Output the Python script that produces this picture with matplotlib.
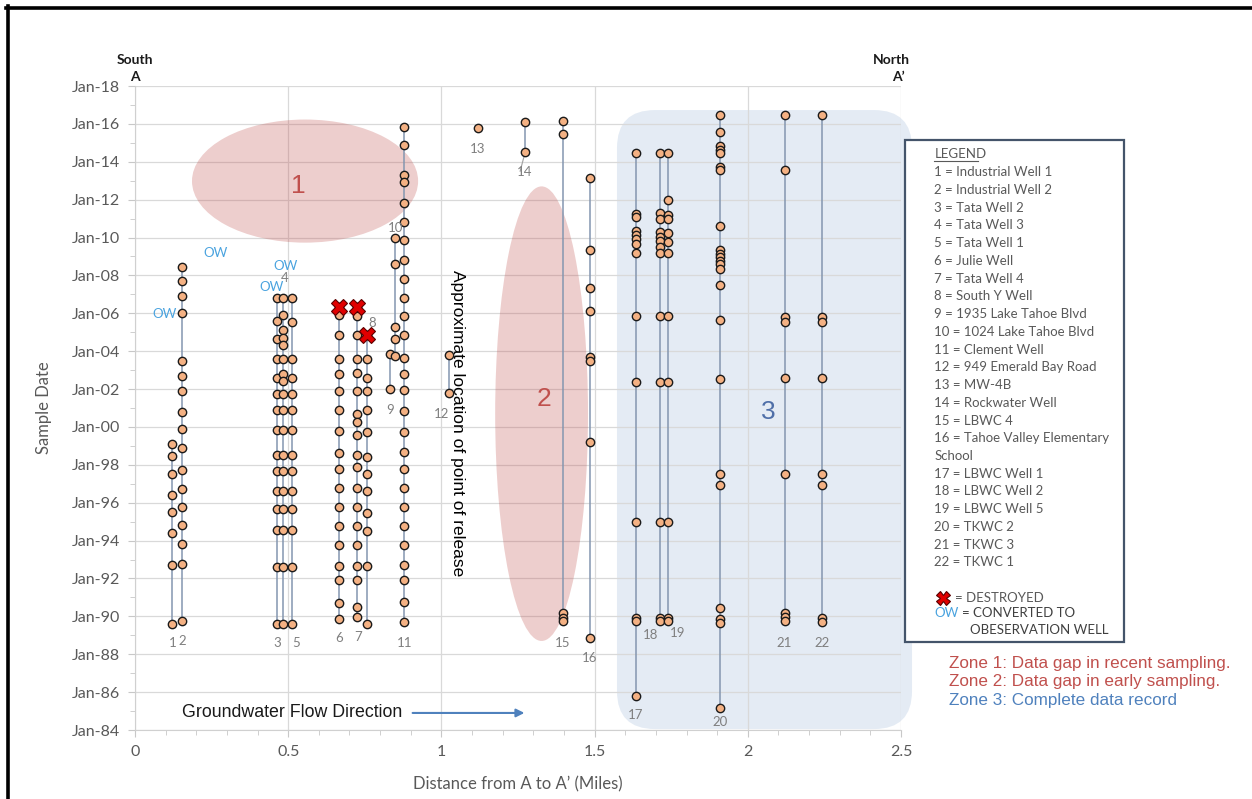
import matplotlib
matplotlib.use('Agg')
import matplotlib.pyplot as plt
from matplotlib.patches import Ellipse, FancyBboxPatch, Rectangle
from matplotlib.lines import Line2D
from matplotlib.ticker import MultipleLocator, FuncFormatter

# ---------------- data ----------------
well_ids = [str(i) for i in range(1, 23)]
well_x = [0.121, 0.153, 0.462, 0.484, 0.511, 0.667, 0.724, 0.757, 0.832, 0.849,
          0.879, 1.025, 1.120, 1.273, 1.396, 1.485, 1.635, 1.713, 1.741, 1.909,
          2.121, 2.241]

w1 = [1999.1, 1998.45, 1997.5, 1996.4, 1995.5, 1994.4, 1992.7, 1989.6]
w2 = [2008.45, 2007.7, 2006.9, 2006.0, 2003.5, 2002.7, 2001.9, 2000.8, 1999.9, 1998.9,
      1997.75, 1996.75, 1995.75, 1994.8, 1993.8, 1992.75, 1989.75]
w3 = [2006.8, 2005.6, 2004.65, 2003.6, 2002.6, 2001.75, 2000.87, 1999.85, 1998.54,
      1997.7, 1996.64, 1995.67, 1994.57, 1992.58, 1989.6]
w4 = [2006.8, 2005.9, 2005.1, 2004.7, 2004.35, 2003.6, 2002.8, 2002.4, 2001.75,
      2000.87, 1999.85, 1998.54, 1997.7, 1996.64, 1995.67, 1994.57, 1992.58, 1989.6]
w5 = [2006.8, 2005.55, 2003.6, 2002.6, 2001.75, 2000.87, 1999.85, 1998.54, 1997.7,
      1996.64, 1995.67, 1994.57, 1992.58, 1989.6]
w6 = [2006.33, 2005.93, 2004.83, 2003.6, 2002.8, 2001.9, 2000.87, 1999.76, 1998.63,
      1997.76, 1996.76, 1995.75, 1994.78, 1993.78, 1992.67, 1991.9, 1990.73, 1989.85]
w7 = [2006.33, 2005.85, 2004.83, 2003.6, 2002.84, 2001.92, 2000.7, 2000.25, 1999.55,
      1998.54, 1997.9, 1996.76, 1995.75, 1994.78, 1993.78, 1992.67, 1991.9, 1990.5,
      1989.94]
w8 = [2004.83, 2003.6, 2002.6, 2001.92, 2000.87, 1999.72, 1998.43, 1997.5, 1996.64,
      1995.46, 1994.52, 1992.67, 1989.6]
w9 = [2003.86, 2002.0]
w10 = [2009.95, 2008.6, 2005.27, 2004.66, 2003.74]
w11 = [2015.85, 2014.88, 2013.29, 2012.94, 2011.8, 2010.82, 2009.86, 2008.84, 2007.83,
       2006.83, 2005.84, 2004.83, 2003.63, 2002.8, 2001.96, 2000.83, 1999.72, 1998.66,
       1997.78, 1996.78, 1995.75, 1994.78, 1993.78, 1992.72, 1991.93, 1990.78, 1989.72]
w12 = [2003.8, 2001.8]
w13 = [2015.8]
w14 = [2016.1, 2014.53]
w15 = [2016.17, 2015.46, 1990.2, 1989.9, 1989.73]
w16 = [2013.12, 2009.36, 2007.35, 2006.1, 2003.68, 2003.46, 1999.23, 1988.84]
w17 = [2014.44, 2011.23, 2011.06, 2010.33, 2010.12, 2009.9, 2009.68, 2009.2, 2005.84,
       2002.37, 1995.0, 1989.9, 1989.73, 1985.8]
w18 = [2014.44, 2011.3, 2011.0, 2010.3, 2010.05, 2009.8, 2009.5, 2009.2, 2005.84,
       2002.37, 1995.0, 1989.9, 1989.73]
w19 = [2014.44, 2012.0, 2011.2, 2011.0, 2010.25, 2009.77, 2009.2, 2005.84, 2002.37,
       1995.0, 1989.9, 1989.73]
w20 = [2016.47, 2015.58, 2014.83, 2014.62, 2014.44, 2013.73, 2013.56, 2010.6, 2009.36,
       2009.15, 2008.97, 2008.76, 2008.59, 2008.36, 2007.5, 2005.66, 2002.54, 1997.52,
       1996.94, 1990.46, 1989.85, 1989.67, 1985.14]
w21 = [2016.47, 2013.56, 2005.8, 2005.54, 2002.6, 1997.52, 1990.2, 1989.94, 1989.73]
w22 = [2016.47, 2005.8, 2005.54, 2002.6, 1997.52, 1996.94, 1989.9, 1989.7]
well_dates = [w1, w2, w3, w4, w5, w6, w7, w8, w9, w10, w11, w12, w13, w14, w15, w16,
              w17, w18, w19, w20, w21, w22]

# destroyed wells (index into wells) and their last date
destroyed_wells = [5, 6, 7]
destroyed_dates = [2006.33, 2006.33, 2004.83]

# where each well number label sits (x miles, date)
label_x = [0.122, 0.155, 0.464, 0.49, 0.525, 0.667, 0.727, 0.774, 0.832, 0.849,
           0.879, 1.0, 1.119, 1.273, 1.396, 1.485, 1.635, 1.681, 1.772, 1.909,
           2.118, 2.241]
label_y = [1988.6, 1988.7, 1988.58, 2007.85, 1988.58, 1988.84, 1988.9, 2005.5, 2000.9,
           2010.5, 1988.6, 2000.7, 2014.67, 2013.47, 1988.58, 1987.8, 1984.8, 1989.0,
           1989.1, 1984.4, 1988.6, 1988.6]

ow_x = [0.098, 0.264, 0.446, 0.493]
ow_y = [2005.95, 2009.17, 2007.4, 2008.5]

legend_names = ["Industrial Well 1", "Industrial Well 2", "Tata Well 2", "Tata Well 3",
                "Tata Well 1", "Julie Well", "Tata Well 4", "South Y Well",
                "1935 Lake Tahoe Blvd", "1024 Lake Tahoe Blvd", "Clement Well",
                "949 Emerald Bay Road", "MW-4B", "Rockwater Well", "LBWC 4",
                "Tahoe Valley Elementary", "LBWC Well 1", "LBWC Well 2", "LBWC Well 5",
                "TKWC 2", "TKWC 3", "TKWC 1"]

zone_notes = ["Zone 1: Data gap in recent sampling.",
              "Zone 2: Data gap in early sampling.",
              "Zone 3: Complete data record"]

# ---------------- style ----------------
FONT = ['Lato', 'DejaVu Sans']
ARIAL = ['Liberation Sans', 'DejaVu Sans']
GRAY = '#595959'
LBL = '#7f7f7f'
RED = '#c0504d'
BLUE = '#4f6fa8'
OWC = '#4aa3df'
plt.rcParams['font.family'] = FONT

W, H = 1252, 799
fig = plt.figure(figsize=(W / 100, H / 100), dpi=100)
fig.patch.set_facecolor('white')
ax = fig.add_axes([135 / W, 1 - 730 / H, 766 / W, 644 / H])

ax.set_xlim(0, 2.5)
ax.set_ylim(1984, 2018)
ax.xaxis.set_major_locator(MultipleLocator(0.5))
ax.xaxis.set_minor_locator(MultipleLocator(0.1))
ax.yaxis.set_major_locator(MultipleLocator(2))
ax.yaxis.set_minor_locator(MultipleLocator(1))
ax.yaxis.set_major_formatter(FuncFormatter(lambda v, p: f"Jan-{int(round(v)) % 100:02d}"))
ax.xaxis.set_major_formatter(FuncFormatter(lambda v, p: f"{v:g}"))
ax.grid(True, which='major', color='#d9d9d9', lw=0.9)
ax.set_axisbelow(True)
for s in ['top', 'right']:
    ax.spines[s].set_visible(False)
for s in ['left', 'bottom']:
    ax.spines[s].set_color('#d0d0d0')
ax.tick_params(which='both', colors='#c8c8c8', labelcolor=GRAY, labelsize=11.5)
ax.tick_params(which='major', length=5)
ax.tick_params(which='minor', length=3.5)
ax.tick_params(axis='y', pad=6)
ax.tick_params(axis='x', pad=6)

ax.set_ylabel('Sample Date', color=GRAY, fontsize=12)
ax.yaxis.set_label_coords(-0.108, 0.5)
ax.set_xlabel('Distance from A to A\u2019 (Miles)', color=GRAY, fontsize=12)
ax.xaxis.set_label_coords(0.5, -0.072)

# zones
ax.add_patch(Ellipse((0.555, 2012.98), 0.738, 6.5, facecolor=RED, alpha=0.28,
                     edgecolor='none', zorder=1))
ax.add_patch(Ellipse((1.327, 2000.7), 0.303, 24.0, facecolor=RED, alpha=0.28,
                     edgecolor='none', zorder=1))
fig.canvas.draw()
(zx0, zy0) = ax.transData.transform((1.573, 1984.05))
(zx1, zy1) = ax.transData.transform((2.536, 2016.73))
z3 = FancyBboxPatch((zx0, zy0), zx1 - zx0, zy1 - zy0,
                    boxstyle='round,pad=0,rounding_size=38', transform=None,
                    facecolor='#dbe5f1', edgecolor='none', alpha=0.75, zorder=0.2,
                    clip_on=False)
ax.add_artist(z3)

ax.text(0.532, 2012.7, '1', color=RED, fontsize=19, ha='center', va='center',
        family=ARIAL, zorder=2)
ax.text(1.335, 2001.5, '2', color=RED, fontsize=19, ha='center', va='center',
        family=ARIAL, zorder=2)
ax.text(2.066, 2000.8, '3', color=BLUE, fontsize=19, ha='center', va='center',
        family=ARIAL, zorder=2)

# wells
for x, dates in zip(well_x, well_dates):
    if len(dates) > 1:
        ax.plot([x] * len(dates), dates, color='#8496b0', lw=1.1, zorder=2)
for x, dates in zip(well_x, well_dates):
    ax.plot([x] * len(dates), dates, ls='none', marker='o', ms=6.0,
            mfc='#f4b183', mec='#1a1a1a', mew=1.0, zorder=3)
ax.plot([well_x[i] for i in destroyed_wells], destroyed_dates, ls='none', marker='X',
        ms=11, mfc='#e00000', mec='#5a0000', mew=0.8, zorder=4)

for lid, lx, ly in zip(well_ids, label_x, label_y):
    ax.text(lx, ly, lid, color=LBL, fontsize=9.5, ha='center', va='center', zorder=5)
ax.plot([1.257, 1.27], [2013.5, 2014.3], color='#a0a0a0', lw=0.8, zorder=2)

for ox, oy in zip(ow_x, ow_y):
    ax.text(ox, oy, 'OW', color=OWC, fontsize=9.5, ha='center', va='center', zorder=5)

ax.text(1.052, 2000.2, 'Approximate location of point of release', rotation=-90,
        fontsize=12.5, family=ARIAL, ha='center', va='center', color='black', zorder=6)

ax.text(0.153, 1984.9, 'Groundwater Flow Direction', fontsize=12.8, family=ARIAL,
        ha='left', va='center', color='#1a1a1a', zorder=6)
ax.annotate('', xy=(1.28, 1984.9), xytext=(0.897, 1984.9),
            arrowprops=dict(arrowstyle='-|>', color='#4f81bd', lw=1.5,
                            mutation_scale=12), zorder=6)

# South / North
ax.text(0.0, 1.041, 'South', transform=ax.transAxes, fontsize=10, fontweight='bold',
        ha='center', va='center', color='#1a1a1a')
ax.text(0.0, 1.014, 'A', transform=ax.transAxes, fontsize=10, fontweight='bold',
        ha='center', va='center', color='#1a1a1a')
ax.text(0.988, 1.041, 'North', transform=ax.transAxes, fontsize=10, fontweight='bold',
        ha='center', va='center', color='#1a1a1a')
ax.text(0.997, 1.014, 'A\u2019', transform=ax.transAxes, fontsize=10,
        fontweight='bold', ha='center', va='center', color='#1a1a1a')

# legend box
fig.patches.append(Rectangle((905 / W, 1 - 641.7 / H), 219 / W, 501.7 / H,
                             transform=fig.transFigure, facecolor='white',
                             edgecolor='#44546a', lw=1.6, zorder=5))
lx0 = 934.3 / W
fig.text(lx0, 1 - 154 / H, 'LEGEND', fontsize=9.5, color=GRAY, va='center',
         ha='left', zorder=6)
fig.add_artist(Line2D([lx0, 978 / W], [1 - 161 / H, 1 - 161 / H], color=GRAY, lw=0.8,
                      transform=fig.transFigure, zorder=6))
lines = []
for i, name in enumerate(legend_names):
    lines.append(f"{i + 1} = {name}")
    if i == 15:
        lines.append("School")
for k, txt in enumerate(lines):
    fig.text(lx0, 1 - (172.3 + 17.73 * k) / H, txt, fontsize=9.5, color=GRAY,
             va='center', ha='left', zorder=6)
fig.add_artist(Line2D([943 / W], [1 - 597.7 / H], marker='X', ms=10, mfc='#e00000',
                      mec='#5a0000', mew=0.8, ls='none', transform=fig.transFigure,
                      zorder=7))
fig.text(955 / W, 1 - 597.7 / H, '= DESTROYED', fontsize=9.5, color=GRAY, va='center',
         ha='left', zorder=7)
fig.text(lx0, 1 - 613.3 / H, 'OW', fontsize=9.5, color=OWC, va='center', ha='left',
         zorder=7)
fig.text(962 / W, 1 - 613.3 / H, '= CONVERTED TO', fontsize=9.5, color='#404040',
         va='center', ha='left', zorder=7)
fig.text(970 / W, 1 - 630 / H, 'OBESERVATION WELL', fontsize=9.5, color='#404040',
         va='center', ha='left', zorder=7)

# zone notes
for k, (note, col) in enumerate(zip(zone_notes, [RED, RED, '#4f81bd'])):
    fig.text(949.3 / W, 1 - (663.3 + 18.4 * k) / H, note, fontsize=12.3, family=ARIAL,
             color=col, va='center', ha='left', zorder=7)

# frame lines
fig.add_artist(Line2D([6 / W, 1.0], [1 - 7.5 / H, 1 - 7.5 / H], color='black', lw=2.6,
                      transform=fig.transFigure))
fig.add_artist(Line2D([8 / W, 8 / W], [0, 1 - 6 / H], color='black', lw=2.6,
                      transform=fig.transFigure))

fig.savefig('out.png', dpi=100)
